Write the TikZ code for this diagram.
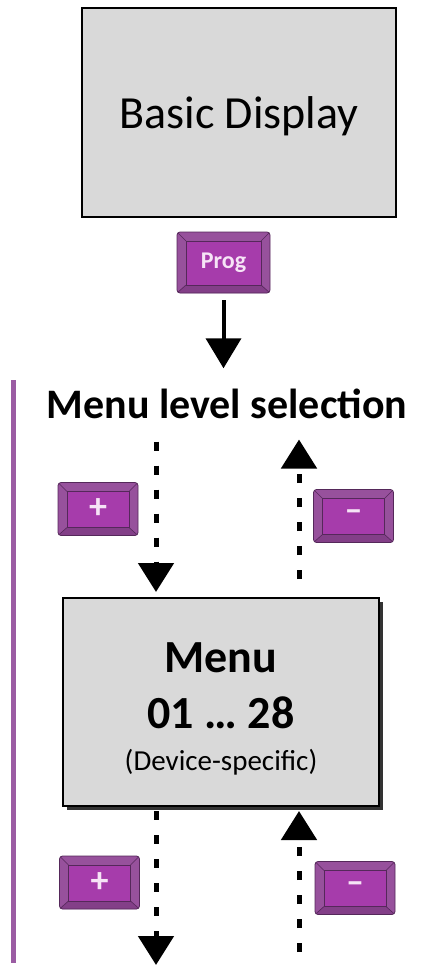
\documentclass[tikz,border=0pt]{standalone}
\usepackage{fontspec}
\setmainfont{Carlito}
\usetikzlibrary{arrows.meta,shadows}

\definecolor{boxgray}{HTML}{D9D9D9}
\definecolor{keyface}{HTML}{A63CAB}
\definecolor{keybevel}{HTML}{97519C}
\definecolor{keyshade}{HTML}{833F88}
\definecolor{keyline}{HTML}{55285A}
\definecolor{keytext}{HTML}{F6E4F6}
\definecolor{levelbar}{HTML}{9B5CA3}

\tikzset{
  display/.style={draw, line width=2.2pt, fill=boxgray, minimum width=314pt, minimum height=209pt, inner sep=0pt},
  key/.style={draw=keyline, line width=0.8pt, fill=keybevel, rounded corners=3pt,
    minimum width=80pt, minimum height=53pt, inner sep=0pt, text=keytext,
    font=\bfseries\fontsize{36}{36}\selectfont,
    path picture={
      \fill[keyshade, sharp corners] (path picture bounding box.south west) -- ([xshift=9pt,yshift=8pt]path picture bounding box.south west)
        -- ([xshift=-9pt,yshift=8pt]path picture bounding box.south east) -- (path picture bounding box.south east) -- cycle;
      \draw[keyline, line width=0.6pt, sharp corners, fill=keyface] ([xshift=9pt,yshift=-9pt]path picture bounding box.north west)
        rectangle ([xshift=-9pt,yshift=8pt]path picture bounding box.south east);
      \foreach \corner/\dx/\dy in {north west/9/-9, north east/-9/-9, south west/9/8, south east/-9/8}
        \draw[keyline, line width=0.6pt] (path picture bounding box.\corner) -- ([xshift=\dx pt,yshift=\dy pt]path picture bounding box.\corner);
    }},
  menutext/.style={anchor=base, inner sep=0pt, font=\bfseries\fontsize{46}{46}\selectfont},
  progarrow/.style={line width=4pt, -{Triangle[length=30pt, width=35pt]}},
  steparrow/.style={line width=5pt, dash pattern=on 9pt off 15pt, -{Triangle[length=29pt, width=35pt]}}
}

\begin{document}
\begin{tikzpicture}[x=1pt, y=-1pt]
  \useasboundingbox (0,0) rectangle (444,966);

  \node[display, text depth=0pt, font=\fontsize{46}{46}\selectfont] (basic) at (239,112.5) {Basic Display};
  \node[key, minimum width=93pt, minimum height=61pt, font=\bfseries\fontsize{24}{24}\selectfont] (prog) at (223.5,262.5) {Prog};
  \node[menutext, font=\bfseries\fontsize{42}{42}\selectfont] (title) at (227,418) {Menu level selection};

  \node[display, minimum width=316pt, minimum height=208pt, line width=2pt,
    drop shadow={shadow xshift=3.5pt, shadow yshift=-3.5pt, fill=black!80, opacity=1}] (menu) at (221,702) {};
  \node[menutext] (menuname) at (221,672) {Menu};
  \node[menutext] (menurange) at (221,728) {01 … 28};
  \node[menutext, font=\fontsize{29}{29}\selectfont] (menunote) at (221,770) {(Device-specific)};

  \node[key] (plusup) at (98,509) {+};
  \node[key] (minusup) at (353.5,516) {–};
  \node[key] (plusdown) at (99.5,882.5) {+};
  \node[key] (minusdown) at (355,888) {–};

  \coordinate (bartop) at (13,380);
  \coordinate (barbottom) at (13,963);
  \coordinate (downx) at (156,0);
  \coordinate (upx) at (299,0);
  \coordinate (nextdown) at (156,965);
  \coordinate (nextup) at (299,952);

  \draw[levelbar, line width=5pt] (bartop) -- (barbottom);
  \draw[progarrow, shorten <=7pt, shorten >=20pt] (prog.south) -- (prog.south |- title.north);
  \draw[steparrow, shorten <=23pt, shorten >=5pt] (title.south -| downx) -- (menu.north -| downx);
  \draw[steparrow, shorten <=18pt, shorten >=21pt] (menu.north -| upx) -- (title.south -| upx);
  \draw[steparrow, shorten <=4pt] (menu.south -| downx) -- (nextdown);
  \draw[steparrow, shorten >=4pt] (nextup) -- (menu.south -| upx);
\end{tikzpicture}
\end{document}
